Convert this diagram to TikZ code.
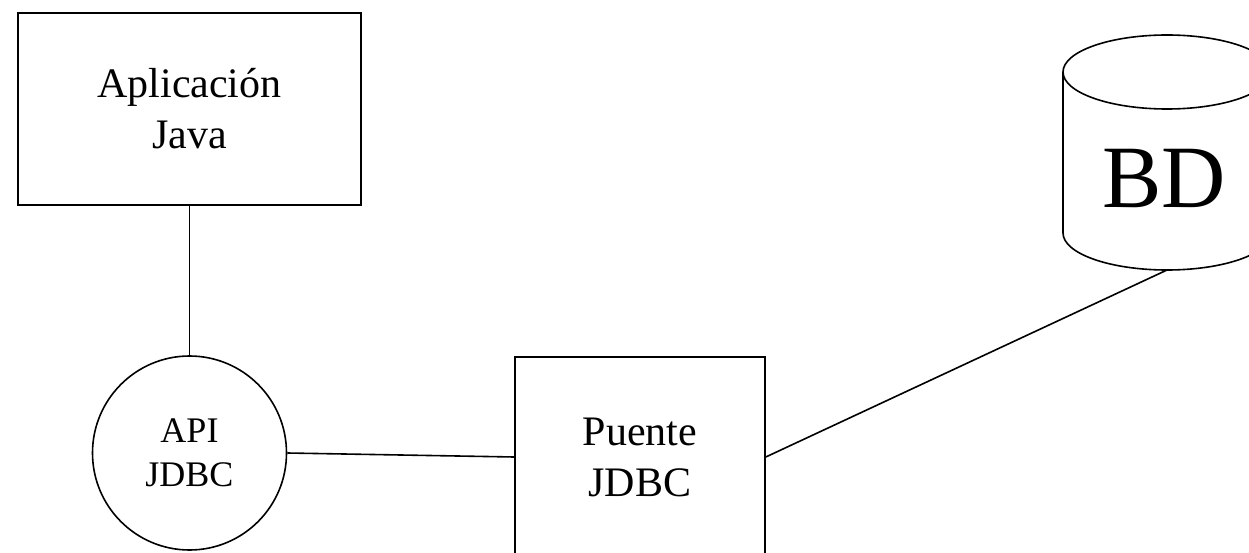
\documentclass[tikz,border=0pt]{standalone}
\usepackage{fontspec}
\setmainfont{Liberation Serif}
\usetikzlibrary{positioning}

\begin{document}
\begin{tikzpicture}[x=1pt, y=1pt, line width=1.6pt, every node/.style={draw, align=center, inner sep=0pt},
    caja/.style={rectangle, font=\fontsize{42}{51}\selectfont},
    api/.style={circle, minimum size=194pt, font=\fontsize{36}{44}\selectfont}]

\useasboundingbox (0,0) rectangle (1249,552);
\clip (0,0) rectangle (1249,552);

\node [caja, minimum width=343pt, minimum height=192pt] (app) at (189.5,443) {Aplicación\\Java};
\node [api] (apijdbc) at (189.5,99) {API\\JDBC};
\node [caja, minimum width=250pt, minimum height=200pt] (puente) at (640,95) {Puente\\JDBC};

% base de datos
\draw (1063,480) -- (1063,319) arc[start angle=180, end angle=360, x radius=104, y radius=37] -- (1271,480);
\draw (1167,480) ellipse [x radius=104, y radius=37];
\coordinate (bdbase) at (1167,282);
\node [draw=none, font=\fontsize{89}{100}\selectfont] (bd) at (1164,374) {BD};

\draw (app.south) -- (apijdbc.north);
\draw (apijdbc.east) -- (puente.west);
\draw (puente.east) -- (bdbase);

\end{tikzpicture}
\end{document}
